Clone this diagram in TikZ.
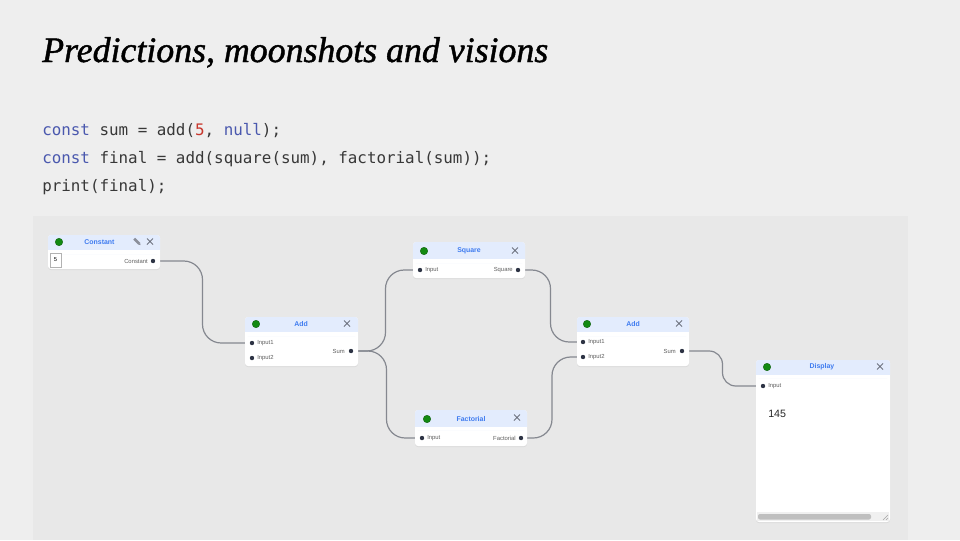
\documentclass[tikz,border=0pt]{standalone}
\usepackage{fontspec}
\setmainfont{Liberation Serif}
\newfontfamily\titlefont[FakeBold=1.2]{Liberation Serif}
\newfontfamily\codefont{DejaVu Sans Mono}
\newfontfamily\uifont{Liberation Sans}
\usetikzlibrary{shadows,fit,calc}
\pgfdeclarelayer{panel}
\pgfdeclarelayer{edges}
\pgfsetlayers{panel,edges,main}
\definecolor{slidebg}{HTML}{EEEEEE}
\definecolor{panelbg}{HTML}{E8E8E8}
\definecolor{hdrblue}{HTML}{E3ECFD}
\definecolor{ttlblue}{HTML}{3E7BF0}
\definecolor{okgreen}{HTML}{128A12}
\definecolor{portdot}{HTML}{2D3344}
\definecolor{wirecol}{HTML}{858890}
\definecolor{kwblue}{HTML}{4A58AE}
\definecolor{numred}{HTML}{C8372D}
\definecolor{codetxt}{HTML}{383838}
\definecolor{lblgray}{HTML}{5E5E5E}
\definecolor{xgray}{HTML}{6E7380}
\begin{document}
\begin{tikzpicture}[x=0.75pt,y=-0.75pt,
  nodebox/.style={fill=white, rounded corners=2.25pt, inner sep=0pt,
    drop shadow={opacity=0.12, shadow xshift=0pt, shadow yshift=-0.8pt}},
  hdr/.style={fill=hdrblue, rounded corners=2.25pt},
  gdot/.style={circle, fill=okgreen, draw=okgreen!70!black, line width=0.3pt, minimum size=5.6pt, inner sep=0pt},
  port/.style={circle, fill=portdot, minimum size=3.3pt, inner sep=0pt},
  ttl/.style={font=\uifont\bfseries\fontsize{5.2pt}{6pt}\selectfont, text=ttlblue, inner sep=0pt},
  plabel/.style={font=\uifont\fontsize{4.4pt}{5pt}\selectfont, text=lblgray, inner sep=0pt},
  wire/.style={draw=wirecol, line width=0.9pt, rounded corners=14pt},
  xline/.style={draw=xgray, line width=0.7pt},
  closex/.pic={\draw[xline] (-3,-3)--(3,3) (-3,3)--(3,-3);},
  codeline/.style={font=\codefont\fontsize{11.9pt}{14pt}\selectfont, text=codetxt, anchor=base west, inner sep=0pt}
]
\useasboundingbox (0,0) rectangle (960,540);
\begin{pgfonlayer}{panel}
  \fill[slidebg] (0,0) rectangle (960,540);
  \fill[panelbg] (33,216) rectangle (908,540);
\end{pgfonlayer}

% title
\node[anchor=base west, inner sep=0pt] (title) at (42,62)
  {\resizebox{379.5pt}{!}{\titlefont\itshape Predictions, moonshots and visions}};

% code
\node[codeline] (code1) at (42,135) {\textcolor{kwblue}{const} sum = add(\textcolor{numred}{5}, \textcolor{kwblue}{null});};
\node[codeline] (code2) at (42,163) {\textcolor{kwblue}{const} final = add(square(sum), factorial(sum));};
\node[codeline] (code3) at (42,191) {print(final);};

% ---------- Constant
\node[nodebox, fit={(48,235) (160,269)}] (const) {};
\fill[hdr] (48,235) rectangle (160,254);
\fill[white] (48,250) rectangle (160,254);
\node[gdot] (constok) at (59,242) {};
\node[ttl] (constttl) at (99.5,242) {Constant};
\pic at (150,241.5) {closex};
\begin{scope}[shift={(137,241.5)}, rotate=-45]
  \fill[xgray!80] (-4,-1.3) rectangle (3,1.3);
  \fill[xgray!80] (3,-1.3) -- (5,0) -- (3,1.3) -- cycle;
\end{scope}
\node[draw=black!30, fill=white, line width=0.4pt, minimum width=8.25pt, minimum height=10.5pt, inner sep=0pt,
  font=\uifont\fontsize{4.3pt}{5pt}\selectfont] (constval) at (55.5,260) {5};
\node[port] (constOut) at (153,261) {};
\node[plabel, anchor=east] (constOutL) at (148,261) {Constant};

% ---------- Add 1
\node[nodebox, fit={(245,317) (358,366)}] (add1) {};
\fill[hdr] (245,317) rectangle (358,336);
\fill[white] (245,332) rectangle (358,336);
\node[gdot] (add1ok) at (256,324) {};
\node[ttl] (add1ttl) at (301,324) {Add};
\pic at (347,323.5) {closex};
\node[port] (add1in1) at (252,343) {};
\node[plabel, anchor=west] (add1in1L) at (257,343) {Input1};
\node[port] (add1in2) at (252,358) {};
\node[plabel, anchor=west] (add1in2L) at (257,358) {Input2};
\node[port] (add1out) at (351,351) {};
\node[plabel, anchor=east] (add1outL) at (345,351) {Sum};

% ---------- Square
\node[nodebox, fit={(413,242) (525,278)}] (sq) {};
\fill[hdr] (413,242) rectangle (525,263);
\fill[white] (413,259) rectangle (525,263);
\node[gdot] (sqok) at (424,251) {};
\node[ttl] (sqttl) at (469,251) {Square};
\pic at (515,250.5) {closex};
\node[port] (sqin) at (420,270) {};
\node[plabel, anchor=west] (sqinL) at (425,270) {Input};
\node[port] (sqout) at (518,270) {};
\node[plabel, anchor=east] (sqoutL) at (513,270) {Square};

% ---------- Factorial
\node[nodebox, fit={(415,410) (527,446)}] (fac) {};
\fill[hdr] (415,410) rectangle (527,430);
\fill[white] (415,426.5) rectangle (527,430);
\node[gdot] (facok) at (427,419) {};
\node[ttl] (facttl) at (471,419) {Factorial};
\pic at (517,417.5) {closex};
\node[port] (facin) at (422,438) {};
\node[plabel, anchor=west] (facinL) at (427,438) {Input};
\node[port] (facout) at (521,438) {};
\node[plabel, anchor=east] (facoutL) at (516,438) {Factorial};

% ---------- Add 2
\node[nodebox, fit={(577,317) (689,366)}] (add2) {};
\fill[hdr] (577,317) rectangle (689,336);
\fill[white] (577,332) rectangle (689,336);
\node[gdot] (add2ok) at (587,324) {};
\node[ttl] (add2ttl) at (633,324) {Add};
\pic at (679,323.5) {closex};
\node[port] (add2in1) at (583,342) {};
\node[plabel, anchor=west] (add2in1L) at (588,342) {Input1};
\node[port] (add2in2) at (583,357) {};
\node[plabel, anchor=west] (add2in2L) at (588,357) {Input2};
\node[port] (add2out) at (682,351) {};
\node[plabel, anchor=east] (add2outL) at (676,351) {Sum};

% ---------- Display
\node[nodebox, fit={(756,360) (890,522)}] (disp) {};
\fill[hdr] (756,360) rectangle (890,378);
\fill[white] (756,375) rectangle (890,378);
\node[gdot] (dispok) at (767,367) {};
\node[ttl] (dispttl) at (822,367) {Display};
\pic at (880,366.5) {closex};
\node[port] (dispin) at (763,386) {};
\node[plabel, anchor=west] (dispinL) at (768,386) {Input};
\node[anchor=base west, inner sep=0pt, text=black!85, font=\uifont\fontsize{8pt}{9pt}\selectfont] (dispval) at (768,417) {145};
\fill[black!6] (757,512) rectangle (889,521);
\fill[black!25, rounded corners=1.5pt] (758,514) rectangle (871,519.5);
\draw[black!35, line width=0.3pt] (883,520) -- (888,515) (886,520) -- (888,518);

% ---------- wires
\coordinate (m1) at ($(constOut)!0.5!(add1in1)$);
\coordinate (m2) at ($(add1out)!0.5!(sqin)$);
\coordinate (m3) at ($(add1out)!0.5!(facin)$);
\coordinate (m4) at ($(sqout)!0.5!(add2in1)$);
\coordinate (m5) at ($(facout)!0.5!(add2in2)$);
\coordinate (m6) at ($(add2out)!0.5!(dispin)$);
\begin{pgfonlayer}{edges}
  \draw[wire] (constOut) -| (m1 |- add1in1) -- (add1in1);
  \draw[wire] (add1out) -| (m2 |- sqin) -- (sqin);
  \draw[wire] (add1out) -| (m3 |- facin) -- (facin);
  \draw[wire] (sqout) -| (m4 |- add2in1) -- (add2in1);
  \draw[wire] (facout) -| (m5 |- add2in2) -- (add2in2);
  \draw[wire, rounded corners=10pt] (add2out) -| (m6 |- dispin) -- (dispin);
\end{pgfonlayer}
\end{tikzpicture}
\end{document}
